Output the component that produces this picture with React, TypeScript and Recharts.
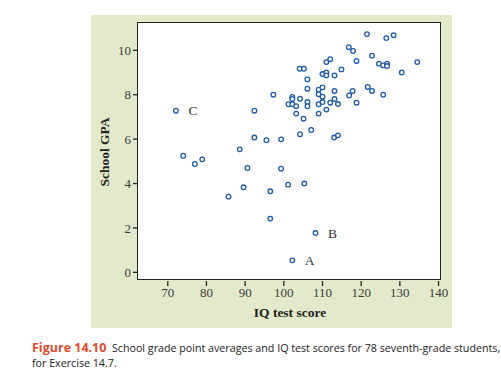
import { ScatterChart, Scatter, XAxis, YAxis, LabelList } from 'recharts';

// IQ test score vs school GPA
const iqScores = [
  72.1, 74.0, 77.0, 78.9, 85.7, 88.6, 89.6, 90.6, 92.4, 92.4,
  95.5, 96.5, 96.5, 97.3, 99.3, 99.3, 101.1, 101.2, 102.2, 103.2,
  102.2, 102.2, 104.2, 103.2, 105.1, 104.2, 107.1, 105.3, 108.2, 102.2,
  104.1, 105.2, 106.1, 106.1, 106.1, 106.1, 109.0, 110.0, 109.0, 110.0,
  109.0, 110.0, 109.0, 111.0, 112.0, 113.1, 114.0, 113.1, 113.0, 114.0,
  110.0, 111.0, 111.0, 113.1, 111.0, 112.0, 114.9, 116.8, 117.9, 118.8,
  116.9, 117.8, 118.8, 121.5, 122.8, 121.7, 122.8, 124.6, 125.7, 126.7,
  126.7, 125.7, 126.5, 128.4, 130.5, 134.5
];
const gpaValues = [
  7.28, 5.25, 4.88, 5.09, 3.41, 5.54, 3.83, 4.70, 7.28, 6.07,
  5.95, 3.65, 2.42, 8.0, 5.99, 4.67, 3.95, 7.57, 7.57, 7.48,
  7.90, 7.81, 7.82, 7.15, 6.92, 6.22, 6.41, 4.0, 1.77, 0.54,
  9.17, 9.17, 8.69, 8.27, 7.67, 7.48, 8.23, 8.33, 8.02, 7.91,
  7.57, 7.67, 7.15, 7.33, 7.64, 7.81, 7.58, 8.17, 6.07, 6.17,
  8.93, 9.0, 8.87, 8.87, 9.47, 9.6, 9.14, 10.14, 9.97, 9.52,
  7.97, 8.17, 7.64, 10.73, 9.76, 8.35, 8.17, 9.40, 9.32, 9.40,
  9.29, 8.0, 10.55, 10.68, 9.0, 9.47
];
// labelled students (index into the arrays above)
const markedIndex = [29, 28, 0];
const markedNames = ['A', 'B', 'C'];

const xTicks = [70, 80, 90, 100, 110, 120, 130, 140];
const yTicks = [0, 2, 4, 6, 8, 10];

const data = iqScores.map((iq, i) => {
  const k = markedIndex.indexOf(i);
  return { iq, gpa: gpaValues[i], name: k >= 0 ? markedNames[k] : '' };
});

const serif = '"Liberation Serif", "DejaVu Serif", serif';

const Ring = (props: any) => (
  <circle cx={props.cx} cy={props.cy} r={2.3} fill="#fff" stroke="#1d5aa8" strokeWidth={1.3} />
);

export default function App() {
  return (
    <div style={{ position: 'absolute', left: 0, top: 0, width: 501, height: 387, background: '#fff' }}>
      {/* green panel */}
      <div style={{ position: 'absolute', left: 91, top: 15, width: 361, height: 313, background: '#e2eacb' }} />
      {/* plot box */}
      <div
        style={{
          position: 'absolute', left: 137, top: 22, width: 304, height: 258,
          background: '#fff', border: '1.5px solid #222', boxSizing: 'border-box'
        }}
      />
      <div style={{ position: 'absolute', left: 0, top: 0 }}>
        <ScatterChart width={501} height={387} margin={{ top: 23, right: 59, bottom: 66, left: 92 }}>
          <XAxis
            type="number"
            dataKey="iq"
            domain={[62.3, 140.9]}
            ticks={xTicks}
            allowDataOverflow
            axisLine={false}
            tickSize={5}
            tickLine={{ stroke: '#222', strokeWidth: 1.3 }}
            tick={{ fill: '#3a3a3a', fontSize: 13, fontFamily: serif }}
            height={40}
            label={{
              value: 'IQ test score', position: 'insideBottom', offset: 4,
              style: { fill: '#222', fontSize: 13.5, fontWeight: 'bold', fontFamily: serif }
            }}
          />
          <YAxis
            type="number"
            dataKey="gpa"
            domain={[-0.39, 11.23]}
            ticks={yTicks}
            allowDataOverflow
            axisLine={false}
            tickSize={5}
            tickLine={{ stroke: '#222', strokeWidth: 1.3 }}
            tick={{ fill: '#3a3a3a', fontSize: 13, fontFamily: serif }}
            width={46}
            label={{
              value: 'School GPA', angle: -90, position: 'insideLeft', offset: 12,
              style: { fill: '#222', fontSize: 13.5, fontWeight: 'bold', fontFamily: serif, textAnchor: 'middle' }
            }}
          />
          <Scatter data={data} shape={Ring} isAnimationActive={false}>
            <LabelList
              dataKey="name"
              position="right"
              offset={8}
              style={{ fill: '#333', fontSize: 13.5, fontFamily: serif }}
            />
          </Scatter>
        </ScatterChart>
      </div>
      {/* caption */}
      <div
        style={{
          position: 'absolute', left: 32, top: 340, width: 470,
          fontFamily: '"Open Sans", "Noto Sans", sans-serif', fontSize: 10.7, lineHeight: '15px', color: '#222'
        }}
      >
        <div style={{ whiteSpace: 'pre' }}>
          <span style={{ color: '#e0492c', fontWeight: 'bold', fontSize: 12.5 }}>Figure 14.10</span>
          {'  School grade point averages and IQ test scores for 78 seventh-grade students,'}
        </div>
        <div>for Exercise 14.7.</div>
      </div>
    </div>
  );
}
